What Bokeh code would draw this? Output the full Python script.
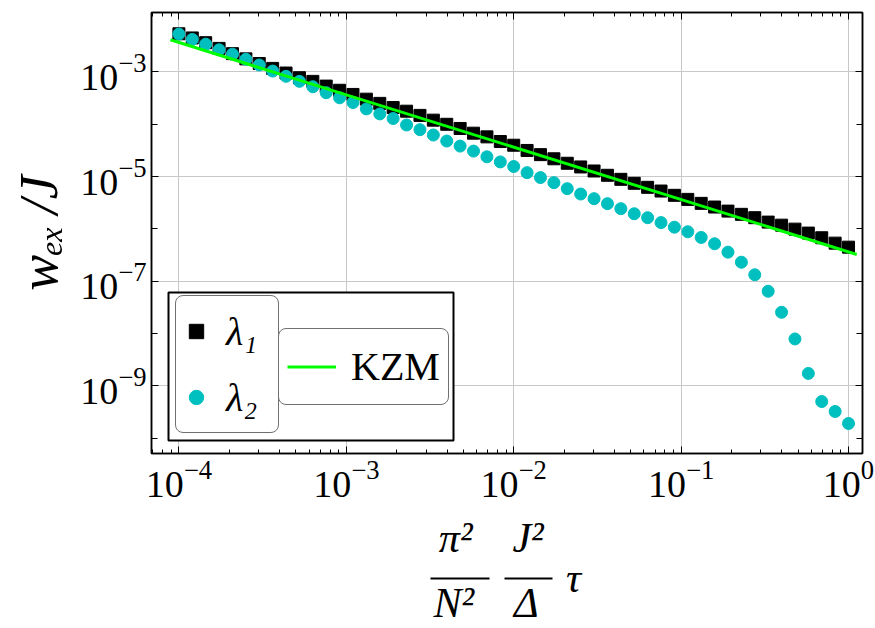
from bokeh.plotting import figure
from bokeh.models import (LogAxis, FixedTicker, LogTickFormatter, CustomJSTickFormatter, Range1d,
                          Legend, LegendItem, BoxAnnotation, ColumnDataSource)
from bokeh.embed import file_html
from bokeh.resources import INLINE

# ---------------- data ----------------
tau = [1.000e-4, 1.202e-4, 1.445e-4, 1.738e-4, 2.089e-4, 2.512e-4, 3.020e-4, 3.631e-4, 4.365e-4,
       5.248e-4, 6.310e-4, 7.586e-4, 9.120e-4, 1.096e-3, 1.318e-3, 1.585e-3, 1.905e-3, 2.291e-3,
       2.754e-3, 3.311e-3, 3.981e-3, 4.786e-3, 5.754e-3, 6.918e-3, 8.318e-3, 1.000e-2, 1.202e-2,
       1.445e-2, 1.738e-2, 2.089e-2, 2.512e-2, 3.020e-2, 3.631e-2, 4.365e-2, 5.248e-2, 6.310e-2,
       7.586e-2, 9.120e-2, 0.1096, 0.1318, 0.1585, 0.1905, 0.2291, 0.2754, 0.3311, 0.3981, 0.4786,
       0.5754, 0.6918, 0.8318, 1.0]

lambda1 = [5.37e-3, 4.47e-3, 3.63e-3, 2.82e-3, 2.24e-3, 1.78e-3, 1.45e-3, 1.17e-3, 9.55e-4, 7.76e-4,
           6.61e-4, 5.37e-4, 4.47e-4, 3.72e-4, 3.02e-4, 2.51e-4, 2.09e-4, 1.78e-4, 1.48e-4, 1.20e-4,
           1.00e-4, 8.32e-5, 6.76e-5, 5.75e-5, 4.68e-5, 3.98e-5, 3.16e-5, 2.63e-5, 2.19e-5, 1.80e-5,
           1.53e-5, 1.28e-5, 1.06e-5, 8.87e-6, 7.45e-6, 6.24e-6, 5.30e-6, 4.39e-6, 3.67e-6, 3.08e-6,
           2.62e-6, 2.19e-6, 1.90e-6, 1.64e-6, 1.35e-6, 1.18e-6, 9.91e-7, 8.32e-7, 6.78e-7, 5.35e-7,
           4.48e-7]

lambda2 = [5.30e-3, 4.19e-3, 3.40e-3, 2.65e-3, 2.19e-3, 1.75e-3, 1.36e-3, 1.04e-3, 8.26e-4, 6.62e-4,
           5.22e-4, 4.01e-4, 3.21e-4, 2.61e-4, 1.97e-4, 1.58e-4, 1.29e-4, 9.70e-5, 7.89e-5, 6.24e-5,
           4.78e-5, 3.83e-5, 3.07e-5, 2.39e-5, 1.91e-5, 1.56e-5, 1.19e-5, 9.57e-6, 7.67e-6, 5.89e-6,
           4.65e-6, 3.79e-6, 3.04e-6, 2.44e-6, 1.95e-6, 1.64e-6, 1.32e-6, 1.08e-6, 8.83e-7, 6.87e-7,
           5.20e-7, 3.60e-7, 2.31e-7, 1.33e-7, 6.43e-8, 2.55e-8, 7.89e-9, 1.73e-9, 5.02e-10, 3.24e-10,
           1.91e-10]

kzm_x = [8.9e-5, 1.12]
kzm_y = [4.12e-3, 3.24e-7]

x_major = [1e-4, 1e-3, 1e-2, 1e-1, 1e0]
x_minor = [7e-5, 8e-5, 9e-5,
           2e-4, 3e-4, 4e-4, 5e-4, 6e-4, 7e-4, 8e-4, 9e-4,
           2e-3, 3e-3, 4e-3, 5e-3, 6e-3, 7e-3, 8e-3, 9e-3,
           2e-2, 3e-2, 4e-2, 5e-2, 6e-2, 7e-2, 8e-2, 9e-2,
           2e-1, 3e-1, 4e-1, 5e-1, 6e-1, 7e-1, 8e-1, 9e-1]
y_major = [1e-9, 1e-7, 1e-5, 1e-3]
y_minor = [1e-10, 1e-8, 1e-6, 1e-4]

EN, NB, TH, EM, HA = "\u2002", "\u00a0", "\u2009", "\u2003", "\u200a"
y_title = "wₑₓ" + TH + "/J"
x_title_num = "π²" + EN + NB + TH + "J²" + EN + NB + "\n" + NB
x_title_den = EM + EM + EM + HA + HA + "τ" + "\n" + "N²" + EN + NB + TH + "Δ" + EM
frac_bar_span = (3.17e-3, 2.60e-2)      # extent of the fraction-bar line under the title
frac_bar_dash = "59 15 48 1000"

FONT = "Liberation Serif"

p = figure(width=875, height=628, x_axis_type="log", y_axis_type="log",
           x_range=Range1d(6.86e-5, 1.212), y_range=Range1d(5.1e-11, 1.37e-2),
           output_backend="svg", toolbar_location=None,
           min_border_left=151, min_border_right=13, min_border_top=12, min_border_bottom=175,
           background_fill_color="white", border_fill_color="white")
p.outline_line_color = "black"
p.outline_line_width = 1.5

xt = FixedTicker(ticks=x_major, minor_ticks=x_minor)
yt = FixedTicker(ticks=y_major, minor_ticks=y_minor)

def style_axis(ax, ticker, minor_len):
    ax.ticker = ticker
    ax.axis_line_color = "black"
    ax.axis_line_width = 1.5
    ax.major_tick_in = 7
    ax.major_tick_out = 0
    ax.minor_tick_in = minor_len
    ax.minor_tick_out = 0
    ax.major_tick_line_color = "black"
    ax.minor_tick_line_color = "black"
    ax.major_tick_line_width = 1
    ax.minor_tick_line_width = 1

xa = p.xaxis[0]
ya = p.yaxis[0]
style_axis(xa, xt, 4)
style_axis(ya, yt, 6)
for ax, so in ((xa, 7), (ya, 5)):
    ax.formatter = LogTickFormatter()
    ax.major_label_text_font = FONT
    ax.major_label_text_font_size = "38px"
    ax.major_label_text_color = "black"
    ax.major_label_standoff = so

ya.axis_label = y_title
ya.axis_label_text_font = FONT
ya.axis_label_text_font_size = "54px"
ya.axis_label_text_font_style = "italic"
ya.axis_label_text_color = "black"
ya.axis_label_standoff = 8

xa.axis_label = x_title_num
xa.axis_label_text_font = FONT
xa.axis_label_text_font_size = "42px"
xa.axis_label_text_font_style = "italic"
xa.axis_label_text_color = "black"
xa.axis_label_text_line_height = 0.33
xa.axis_label_standoff = 15

# second row of the x title: fraction bars (axis line), tau and denominators
xb = LogAxis(ticker=FixedTicker(ticks=[]), bounds=frac_bar_span,
             axis_line_color="black", axis_line_width=2, axis_line_dash=frac_bar_dash,
             major_tick_in=0, major_tick_out=0, minor_tick_in=0, minor_tick_out=0,
             axis_label=x_title_den, axis_label_text_font=FONT, axis_label_text_font_size="42px",
             axis_label_text_font_style="italic", axis_label_text_color="black",
             axis_label_text_line_height=0.55, axis_label_standoff=-24)
p.add_layout(xb, "below")

for loc, ticker, ml in (("above", xt, 4), ("right", yt, 6)):
    ax = LogAxis(formatter=CustomJSTickFormatter(code="return ''"))
    style_axis(ax, ticker, ml)
    ax.major_label_text_font_size = "1px"
    ax.major_label_standoff = 0
    p.add_layout(ax, loc)

p.xgrid.ticker = xt
p.ygrid.ticker = yt
for g in (p.xgrid, p.ygrid):
    g.grid_line_color = "#c8c8c8"
    g.grid_line_width = 1

src1 = ColumnDataSource(dict(x=tau, y=lambda1))
src2 = ColumnDataSource(dict(x=tau, y=lambda2))
r1 = p.scatter("x", "y", source=src1, marker="square", size=12,
               fill_color="black", line_color="black")
r2 = p.scatter("x", "y", source=src2, marker="circle", size=12,
               fill_color="#00BFBF", line_color="#00BFBF")
r3 = p.line(kzm_x, kzm_y, line_color="#00FF00", line_width=3)

# ---------------- legend ----------------
outer = BoxAnnotation(left=17, right=302, bottom=13, top=161,
                      left_units="screen", right_units="screen",
                      top_units="screen", bottom_units="screen",
                      fill_color="white", fill_alpha=1.0,
                      line_color="black", line_width=2, line_alpha=1.0)
p.add_layout(outer)

common = dict(orientation="vertical", margin=0, spacing=0,
              label_text_font=FONT, label_text_font_size="40px", label_text_color="black",
              border_line_color="#707070", border_line_width=1.5, border_line_alpha=1.0,
              background_fill_color="white", background_fill_alpha=1.0)

leg1 = Legend(items=[LegendItem(label="λ₁", renderers=[r1]),
                     LegendItem(label="λ₂", renderers=[r2])],
              location=(24, 20), glyph_width=36, glyph_height=66, label_height=66,
              label_width=50, label_standoff=12, padding=2,
              label_text_font_style="italic", **common)
leg2 = Legend(items=[LegendItem(label="KZM", renderers=[r3])],
              location=(127, 48), glyph_width=49, glyph_height=59, label_height=59,
              label_standoff=15, padding=8, label_text_font_style="normal", **common)
for lg in (leg1, leg2):
    try:
        lg.border_radius = 8
    except AttributeError:
        pass
    p.add_layout(lg)

open("out.html", "w").write(file_html(p, INLINE))
